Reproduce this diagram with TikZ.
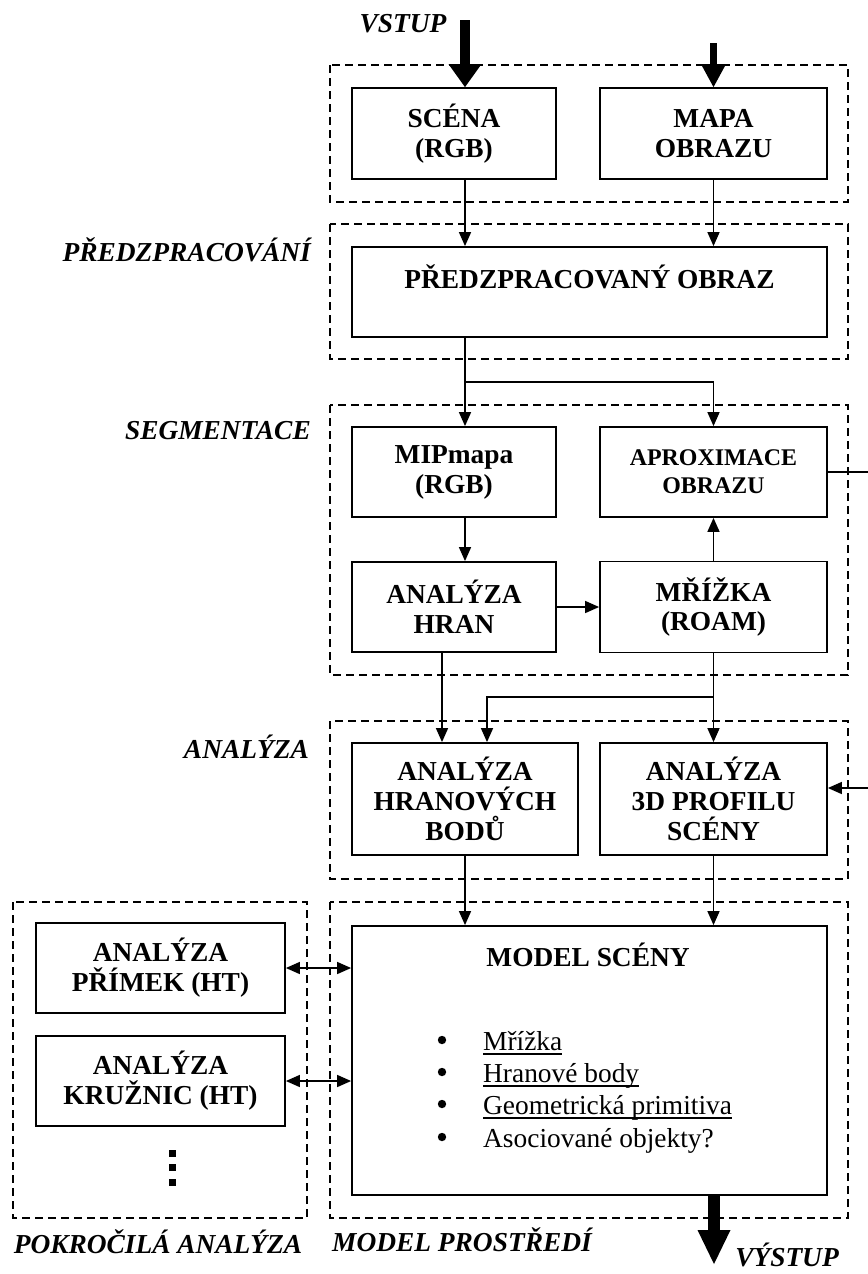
\documentclass[tikz,border=0pt]{standalone}
\usepackage{fontspec}
\setmainfont{Liberation Serif}
\usetikzlibrary{arrows.meta}
\newcommand\myul[1]{\setbox0\hbox{#1}\rlap{\rule[-4.5bp]{\wd0}{1.3bp}}\box0}
\newcommand\bxfont{\fontsize{27.5}{30}\selectfont\bfseries}
\newcommand\smbxfont{\fontsize{24}{28}\selectfont\bfseries}
\newcommand\lbfont{\fontsize{27.5}{30}\selectfont\bfseries\itshape}
\newcommand\txfont{\fontsize{27.5}{30}\selectfont}
\begin{document}
\begin{tikzpicture}[x=1bp,y=-1bp,
  box/.style={draw,line width=1.8bp,inner sep=0pt,align=center,font=\bxfont},
  group/.style={draw,line width=1.3bp,dash pattern=on 8bp off 5bp},
  lbl/.style={inner sep=0pt,font=\lbfont},
  txt/.style={inner sep=0pt,font=\txfont},
  arr/.style={line width=1.5bp,-{Triangle[width=12bp,length=14bp]}},
  darr/.style={line width=1.5bp,{Triangle[width=12bp,length=14bp]}-{Triangle[width=12bp,length=14bp]}},
  line/.style={line width=1.5bp}]
\useasboundingbox (0,0) rectangle (868,1274);

% group frames
\draw[group] (330,65) rectangle (848,202);
\draw[group] (330,224) rectangle (848,359);
\draw[group] (330,405) rectangle (848,675);
\draw[group] (330,721) rectangle (848,879);
\draw[group] (330,902) rectangle (848,1218);
\draw[group] (13,902) rectangle (307,1218);

% labels
\node[lbl] (vstup) at (403,24) {VSTUP};
\node[lbl,anchor=east] (lpre) at (311,250) {PŘEDZPRACOVÁNÍ};
\node[lbl,anchor=east] (lseg) at (311,431) {SEGMENTACE};
\node[lbl,anchor=east] (lana) at (309,747) {ANALÝZA};
\node[lbl] (lpok) at (158,1242) {POKROČILÁ ANALÝZA};
\node[lbl,anchor=west] (lmod) at (332,1240) {MODEL PROSTŘEDÍ};
\node[lbl] (vystup) at (787,1255) {VÝSTUP};

% boxes
\node[box,minimum width=204bp,minimum height=91bp] (scena) at (454,133.5) {SCÉNA\\(RGB)};
\node[box,minimum width=227bp,minimum height=91bp] (mapa) at (713.5,133.5) {MAPA\\OBRAZU};
\node[box,minimum width=475bp,minimum height=90bp] (pre) at (589.5,292) {PŘEDZPRACOVANÝ OBRAZ\\\mbox{}};
\node[box,minimum width=204bp,minimum height=90bp] (mip) at (454,472) {MIPmapa\\(RGB)};
\node[box,minimum width=227bp,minimum height=90bp,font=\smbxfont] (aprox) at (713.5,472) {APROXIMACE\\OBRAZU};
\node[box,minimum width=204bp,minimum height=90bp] (hran) at (454,607) {ANALÝZA\\HRAN};
\node[box,minimum width=227bp,minimum height=91bp] (mriz) at (713.5,607) {MŘÍŽKA\\(ROAM)};
\node[box,minimum width=226bp,minimum height=112bp] (ahb) at (465,799) {ANALÝZA\\HRANOVÝCH\\BODŮ};
\node[box,minimum width=227bp,minimum height=112bp] (a3d) at (713.5,799) {ANALÝZA\\3D PROFILU\\SCÉNY};
\node[box,minimum width=475bp,minimum height=269bp] (model) at (589.5,1060.5) {};
\node[box,minimum width=249bp,minimum height=90bp] (primek) at (160.5,968) {ANALÝZA\\PŘÍMEK (HT)};
\node[box,minimum width=249bp,minimum height=90bp] (kruz) at (160.5,1081) {ANALÝZA\\KRUŽNIC (HT)};

% model content
\node[inner sep=0pt,font=\bxfont] (mtitle) at (588,955) {MODEL SCÉNY};
\fill (442,1040) circle (4.2bp);
\fill (442,1072) circle (4.2bp);
\fill (442,1104) circle (4.2bp);
\fill (442,1137) circle (4.2bp);
\node[txt,anchor=base west] (t1) at (483,1050) {\myul{Mřížka}};
\node[txt,anchor=base west] (t2) at (483,1082) {\myul{Hranové body}};
\node[txt,anchor=base west] (t3) at (483,1114) {\myul{Geometrická primitiva}};
\node[txt,anchor=base west] (t4) at (483,1147) {Asociované objekty?};

% dots
\fill (168.5,1149.5) rectangle (175.5,1156.5);
\fill (168.5,1164) rectangle (175.5,1171);
\fill (168.5,1179) rectangle (175.5,1186);

% helper coordinates
\coordinate (cl) at (465,0);
\coordinate (in1) at (465,20);
\coordinate (in2) at (713.5,43);
\coordinate (j1) at (465,382);
\coordinate (j2) at (713.5,697);
\coordinate (k2) at (487,697);
\coordinate (ch) at (442,0);
\coordinate (outR) at (868,472);
\coordinate (inR) at (868,788);
\coordinate (out) at (714,1264);

% thick arrows
\draw[line width=10bp,-{Triangle[width=33bp,length=23bp,line width=0pt]}] (in1) -- (in1 |- scena.north);
\draw[line width=7bp,-{Triangle[width=25bp,length=23bp,line width=0pt]}] (in2) -- (mapa.north);
\draw[line width=12bp,-{Triangle[width=33bp,length=34bp,line width=0pt]}] (out |- model.south) -- (out);

% connectors
\draw[arr] (cl |- scena.south) -- (cl |- pre.north);
\draw[arr] (mapa.south) -- (mapa.south |- pre.north);
\draw[arr] (cl |- pre.south) -- (cl |- mip.north);
\draw[arr] (j1) -| (aprox.north);
\draw[arr] (cl |- mip.south) -- (cl |- hran.north);
\draw[arr] (hran.east) -- (mriz.west);
\draw[arr] (mriz.north) -- (aprox.south);
\draw[arr] (ch |- hran.south) -- (ch |- ahb.north);
\draw[arr] (mriz.south) -- (a3d.north);
\draw[arr] (j2) -- (k2) -- (k2 |- ahb.north);
\draw[line] (aprox.east) -- (outR);
\draw[arr] (inR) -- (inR -| a3d.east);
\draw[arr] (ahb.south) -- (ahb.south |- model.north);
\draw[arr] (a3d.south) -- (a3d.south |- model.north);
\draw[darr] (primek.east) -- (primek.east -| model.west);
\draw[darr] (kruz.east) -- (kruz.east -| model.west);
\end{tikzpicture}
\end{document}
